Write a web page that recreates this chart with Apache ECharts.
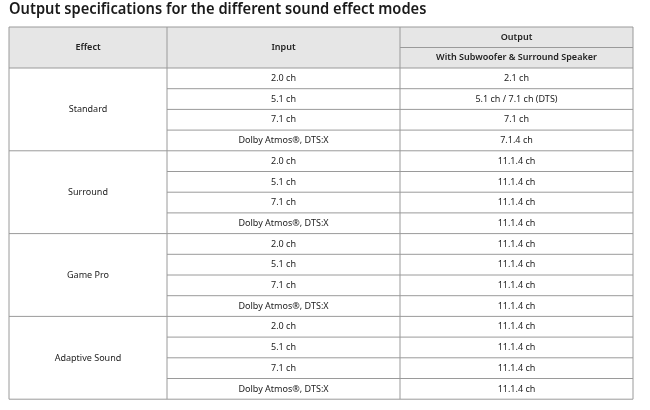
<!DOCTYPE html><html><head><meta charset="utf-8"><script src="https://cdn.jsdelivr.net/npm/echarts@6/dist/echarts.min.js"></script>
<style>html,body{margin:0;background:#fff}#c{width:650px;height:410px}</style></head><body><div id="c"></div><script>
const title = 'Output specifications for the different sound effect modes';
const headers = ['Effect', 'Input', 'Output', 'With Subwoofer & Surround Speaker'];
const effects = ['Standard', 'Surround', 'Game Pro', 'Adaptive Sound'];
const inputs = ['2.0 ch', '5.1 ch', '7.1 ch', 'Dolby Atmos®, DTS:X'];
const outputs = [
  ['2.1 ch', '5.1 ch / 7.1 ch (DTS)', '7.1 ch', '7.1.4 ch'],
  ['11.1.4 ch', '11.1.4 ch', '11.1.4 ch', '11.1.4 ch'],
  ['11.1.4 ch', '11.1.4 ch', '11.1.4 ch', '11.1.4 ch'],
  ['11.1.4 ch', '11.1.4 ch', '11.1.4 ch', '11.1.4 ch']
];
(function () {
const chart = echarts.init(document.getElementById('c'));
const X = [9, 167, 400, 633], T = 27, hRow = 20.5, rowH = 20.7;
const bodyTop = T + 2 * hRow;
const F = '"Noto Sans", sans-serif';
const g = [];
const line = (x1, y1, x2, y2, c) => g.push({type: 'line', shape: {x1, y1, x2, y2}, style: {stroke: c || '#9a9a9a', lineWidth: 1}});
const txt = (x, y, t, bold) => g.push({type: 'text', x, y, scaleX: 0.95, style: {text: t, font: (bold ? '600 ' : '') + '9.5px ' + F, fill: '#222', align: 'center', verticalAlign: 'middle'}});
g.push({type: 'text', x: 9, y: 9, scaleX: 0.89, style: {text: title, font: '600 16.5px ' + F, fill: '#1a1a1a', verticalAlign: 'middle'}});
g.push({type: 'rect', shape: {x: X[0], y: T, width: X[3] - X[0], height: 2 * hRow}, style: {fill: '#e6e6e6'}});
const nRows = effects.length * inputs.length;
const bottom = bodyTop + nRows * rowH;
txt((X[0] + X[1]) / 2, T + hRow, headers[0], true);
txt((X[1] + X[2]) / 2, T + hRow, headers[1], true);
txt((X[2] + X[3]) / 2, T + hRow / 2, headers[2], true);
txt((X[2] + X[3]) / 2, T + 1.5 * hRow, headers[3], true);
line(X[2], T + hRow, X[3], T + hRow);
effects.forEach((e, i) => {
  const y0 = bodyTop + i * inputs.length * rowH;
  txt((X[0] + X[1]) / 2, y0 + inputs.length * rowH / 2, e);
  inputs.forEach((inp, j) => {
    const y = y0 + j * rowH;
    txt((X[1] + X[2]) / 2, y + rowH / 2, inp);
    txt((X[2] + X[3]) / 2, y + rowH / 2, outputs[i][j]);
    if (j > 0) line(X[1], y, X[3], y);
  });
  line(X[0], y0, X[3], y0);
});
line(X[0], T, X[3], T); line(X[0], bottom, X[3], bottom);
X.forEach(x => line(x, T, x, bottom));
chart.setOption({animation: false, graphic: g});
})();
</script></body></html>
